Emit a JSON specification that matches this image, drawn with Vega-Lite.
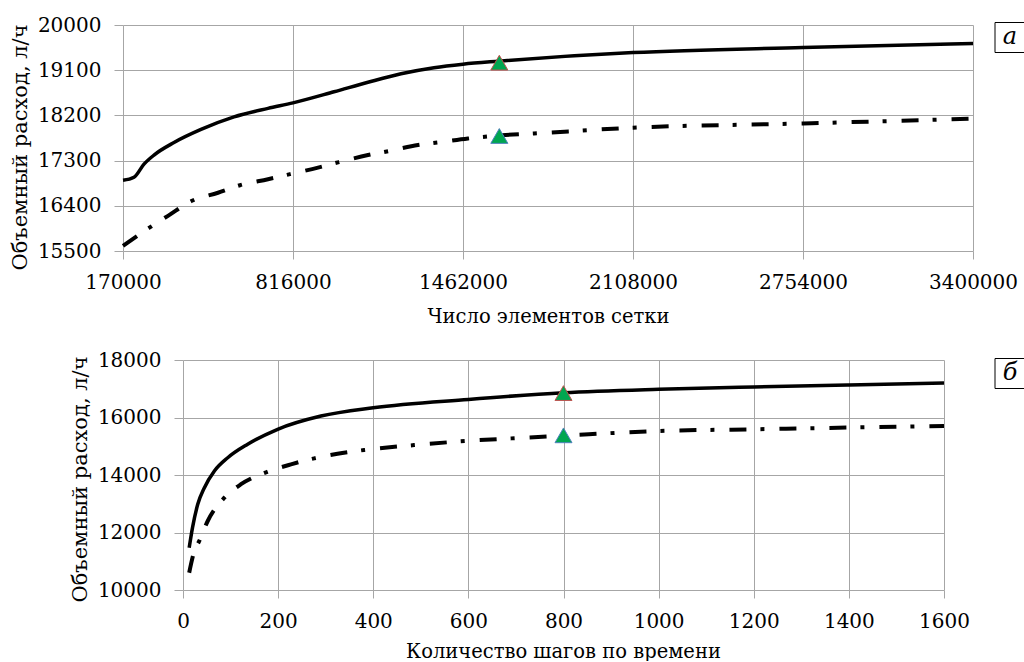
{
  "$schema": "https://vega.github.io/schema/vega-lite/v6.json",
  "background": "white",
  "padding": {"left": 9, "top": 15, "right": 0, "bottom": 0},
  "spacing": 24,
  "config": {
    "font": "DejaVu Serif",
    "view": {"stroke": null},
    "axis": {
      "labelFont": "DejaVu Serif",
      "titleFont": "DejaVu Serif",
      "labelFontSize": 20,
      "titleFontSize": 19.5,
      "labelColor": "#000000",
      "titleColor": "#000000",
      "titleFontWeight": "normal",
      "gridColor": "#a6a6a6",
      "gridOpacity": 1,
      "gridWidth": 1,
      "tickColor": "#a6a6a6",
      "tickWidth": 1,
      "domain": false,
      "labelFlush": false,
      "labelOverlap": false
    }
  },
  "datasets": {
    "topSolid": [
      {"n": 170000, "q": 16910},
      {"n": 211800, "q": 16970},
      {"n": 249800, "q": 17230},
      {"n": 287800, "q": 17410},
      {"n": 363800, "q": 17660},
      {"n": 466400, "q": 17920},
      {"n": 591800, "q": 18170},
      {"n": 721000, "q": 18340},
      {"n": 816000, "q": 18450},
      {"n": 971800, "q": 18670},
      {"n": 1101000, "q": 18860},
      {"n": 1226400, "q": 19030},
      {"n": 1351800, "q": 19150},
      {"n": 1462000, "q": 19220},
      {"n": 1598800, "q": 19280},
      {"n": 2108000, "q": 19450},
      {"n": 2754000, "q": 19550},
      {"n": 3400000, "q": 19630}
    ],
    "topDash": [
      {"n": 170000, "q": 15600},
      {"n": 268800, "q": 15960},
      {"n": 341000, "q": 16200},
      {"n": 432200, "q": 16500},
      {"n": 531000, "q": 16660},
      {"n": 614600, "q": 16810},
      {"n": 721000, "q": 16930},
      {"n": 804600, "q": 17030},
      {"n": 911000, "q": 17160},
      {"n": 990800, "q": 17270},
      {"n": 1101000, "q": 17410},
      {"n": 1180800, "q": 17490},
      {"n": 1291000, "q": 17610},
      {"n": 1367000, "q": 17660},
      {"n": 1481000, "q": 17740},
      {"n": 1598800, "q": 17800},
      {"n": 1731800, "q": 17840},
      {"n": 2108000, "q": 17955},
      {"n": 2754000, "q": 18040},
      {"n": 3400000, "q": 18135}
    ],
    "topMarks": [
      {"n": 1600000, "q": 19250, "series": "solid"},
      {"n": 1600000, "q": 17790, "series": "dash"}
    ],
    "topLabel": [{"label": "а"}],
    "botSolid": [
      {"t": 13, "q": 11470},
      {"t": 20, "q": 12170},
      {"t": 31, "q": 12980},
      {"t": 45, "q": 13560},
      {"t": 66, "q": 14140},
      {"t": 94, "q": 14600},
      {"t": 136, "q": 15070},
      {"t": 199, "q": 15590},
      {"t": 290, "q": 16050},
      {"t": 400, "q": 16340},
      {"t": 600, "q": 16630},
      {"t": 800, "q": 16860},
      {"t": 1000, "q": 16980},
      {"t": 1200, "q": 17060},
      {"t": 1400, "q": 17130},
      {"t": 1600, "q": 17200}
    ],
    "botDash": [
      {"t": 13, "q": 10600},
      {"t": 24, "q": 11360},
      {"t": 34, "q": 11700},
      {"t": 52, "q": 12400},
      {"t": 87, "q": 13210},
      {"t": 122, "q": 13680},
      {"t": 176, "q": 14100},
      {"t": 227, "q": 14370},
      {"t": 276, "q": 14580},
      {"t": 325, "q": 14740},
      {"t": 381, "q": 14870},
      {"t": 486, "q": 15040},
      {"t": 592, "q": 15180},
      {"t": 697, "q": 15280},
      {"t": 800, "q": 15370},
      {"t": 1000, "q": 15530},
      {"t": 1200, "q": 15590},
      {"t": 1400, "q": 15650},
      {"t": 1600, "q": 15705}
    ],
    "botMarks": [
      {"t": 800, "q": 16850, "series": "solid"},
      {"t": 800, "q": 15380, "series": "dash"}
    ],
    "botLabel": [{"label": "б"}]
  },
  "vconcat": [
    {
      "width": 850,
      "height": 226,
      "layer": [
        {
          "data": {"name": "topSolid"},
          "mark": {"type": "line", "color": "#000000", "strokeWidth": 3.5, "interpolate": "monotone"},
          "encoding": {
            "x": {
              "field": "n",
              "type": "quantitative",
              "scale": {"domain": [170000, 3400000], "nice": false, "zero": false},
              "axis": {
                "values": [170000, 816000, 1462000, 2108000, 2754000, 3400000],
                "format": "d",
                "title": "Число элементов сетки",
                "tickSize": 8,
                "labelPadding": 13,
                "titlePadding": 15
              }
            },
            "y": {
              "field": "q",
              "type": "quantitative",
              "scale": {"domain": [15500, 20000], "nice": false, "zero": false},
              "axis": {
                "values": [15500, 16400, 17300, 18200, 19100, 20000],
                "format": "d",
                "title": "Объемный расход, л/ч",
                "titleFontSize": 21,
                "tickSize": 9,
                "labelPadding": 13,
                "titlePadding": 7,
                "titleY": 122
              }
            }
          }
        },
        {
          "data": {"name": "topDash"},
          "mark": {"type": "line", "color": "#000000", "strokeWidth": 4, "interpolate": "monotone", "strokeDash": [17, 14, 4, 15]},
          "encoding": {
            "x": {"field": "n", "type": "quantitative"},
            "y": {"field": "q", "type": "quantitative"}
          }
        },
        {
          "data": {"name": "topMarks"},
          "mark": {"type": "point", "shape": "triangle-up", "filled": true, "fill": "#00a650", "fillOpacity": 1, "size": 290, "strokeWidth": 1, "opacity": 1},
          "encoding": {
            "x": {"field": "n", "type": "quantitative"},
            "y": {"field": "q", "type": "quantitative"},
            "stroke": {"field": "series", "type": "nominal", "scale": {"domain": ["solid", "dash"], "range": ["#c0504d", "#4f81bd"]}, "legend": null}
          }
        },
        {
          "data": {"name": "topLabel"},
          "mark": {"type": "point", "shape": "square", "filled": false, "stroke": "#000000", "strokeWidth": 1, "size": 900, "opacity": 1, "xOffset": 37, "clip": false},
          "encoding": {
            "x": {"datum": 3400000},
            "y": {"datum": 19751}
          }
        },
        {
          "data": {"name": "topLabel"},
          "mark": {"type": "text", "font": "DejaVu Serif", "fontStyle": "italic", "fontSize": 24, "color": "#000000", "dx": 37, "dy": -1, "clip": false},
          "encoding": {
            "x": {"datum": 3400000},
            "y": {"datum": 19751},
            "text": {"field": "label"}
          }
        }
      ]
    },
    {
      "width": 821,
      "height": 230,
      "layer": [
        {
          "data": {"name": "botSolid"},
          "mark": {"type": "line", "color": "#000000", "strokeWidth": 3.5, "interpolate": "monotone"},
          "encoding": {
            "x": {
              "field": "t",
              "type": "quantitative",
              "scale": {"domain": [0, 1600], "range": [60, 821], "nice": false, "zero": false},
              "axis": {
                "values": [0, 200, 400, 600, 800, 1000, 1200, 1400, 1600],
                "format": "d",
                "title": "Количество шагов по времени",
                "tickSize": 8,
                "labelPadding": 13,
                "titlePadding": 11,
                "titleX": 440
              }
            },
            "y": {
              "field": "q",
              "type": "quantitative",
              "scale": {"domain": [10000, 18000], "nice": false, "zero": false},
              "axis": {
                "values": [10000, 12000, 14000, 16000, 18000],
                "format": "d",
                "title": "Объемный расход, л/ч",
                "titleFontSize": 21,
                "tickSize": 9,
                "labelPadding": 13,
                "titlePadding": 7,
                "titleY": 119,
                "offset": -60
              }
            }
          }
        },
        {
          "data": {"name": "botDash"},
          "mark": {"type": "line", "color": "#000000", "strokeWidth": 4, "interpolate": "monotone", "strokeDash": [17, 14, 4, 15]},
          "encoding": {
            "x": {"field": "t", "type": "quantitative"},
            "y": {"field": "q", "type": "quantitative"}
          }
        },
        {
          "data": {"name": "botMarks"},
          "mark": {"type": "point", "shape": "triangle-up", "filled": true, "fill": "#00a650", "fillOpacity": 1, "size": 290, "strokeWidth": 1, "opacity": 1},
          "encoding": {
            "x": {"field": "t", "type": "quantitative"},
            "y": {"field": "q", "type": "quantitative"},
            "stroke": {"field": "series", "type": "nominal", "scale": {"domain": ["solid", "dash"], "range": ["#c0504d", "#4f81bd"]}, "legend": null}
          }
        },
        {
          "data": {"name": "botLabel"},
          "mark": {"type": "point", "shape": "square", "filled": false, "stroke": "#000000", "strokeWidth": 1, "size": 900, "opacity": 1, "xOffset": 66, "clip": false},
          "encoding": {
            "x": {"datum": 1600},
            "y": {"datum": 17530}
          }
        },
        {
          "data": {"name": "botLabel"},
          "mark": {"type": "text", "font": "DejaVu Serif", "fontStyle": "italic", "fontSize": 24, "color": "#000000", "dx": 66, "dy": -1, "clip": false},
          "encoding": {
            "x": {"datum": 1600},
            "y": {"datum": 17530},
            "text": {"field": "label"}
          }
        }
      ]
    }
  ]
}
